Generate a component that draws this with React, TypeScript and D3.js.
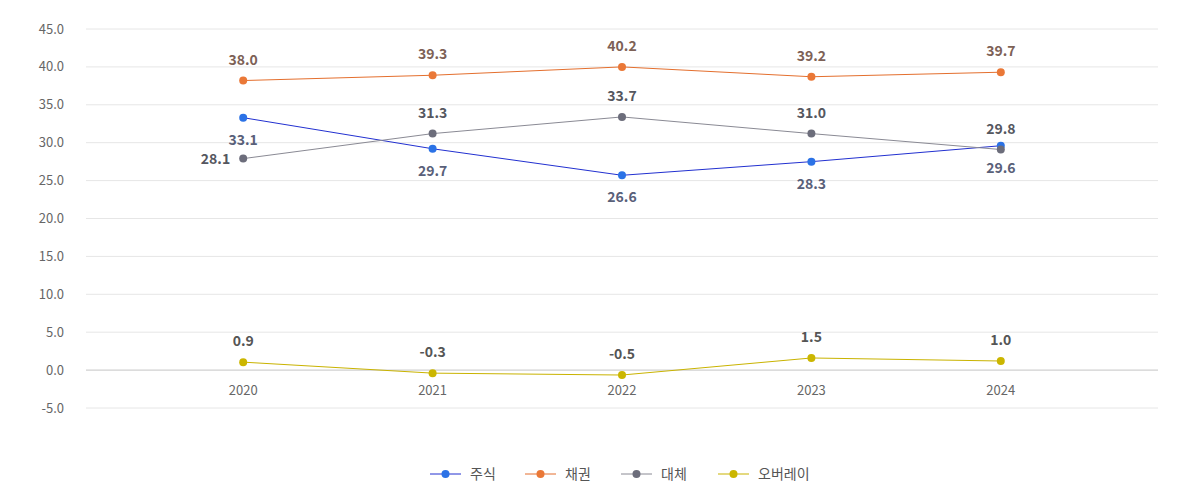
import * as d3 from "d3";

// ── Data ──────────────────────────────────────────────────────────────────────
const years = ["2020", "2021", "2022", "2023", "2024"];

const stockValues = [33.3, 29.2, 25.7, 27.5, 29.6];
const stockLabels = ["33.1", "29.7", "26.6", "28.3", "29.6"];

const bondValues = [38.2, 38.9, 40.0, 38.7, 39.3];
const bondLabels = ["38.0", "39.3", "40.2", "39.2", "39.7"];

const altValues = [27.9, 31.2, 33.4, 31.2, 29.1];
const altLabels = ["28.1", "31.3", "33.7", "31.0", "29.8"];

const overlayValues = [1.05, -0.4, -0.65, 1.6, 1.2];
const overlayLabels = ["0.9", "-0.3", "-0.5", "1.5", "1.0"];

const yTicks = [-5, 0, 5, 10, 15, 20, 25, 30, 35, 40, 45];

// label side per point: "up" | "down" | "left"
type Side = "up" | "down" | "left";

interface Series {
  name: string;
  values: number[];
  labels: string[];
  sides: Side[];
  line: string;
  dot: string;
  labelColor: string;
}

const series: Series[] = [
  {
    name: "주식",
    values: stockValues,
    labels: stockLabels,
    sides: ["down", "down", "down", "down", "down"],
    line: "#2230d0",
    dot: "#2b72e6",
    labelColor: "#596079",
  },
  {
    name: "채권",
    values: bondValues,
    labels: bondLabels,
    sides: ["up", "up", "up", "up", "up"],
    line: "#e46f2e",
    dot: "#ea7837",
    labelColor: "#7d6156",
  },
  {
    name: "대체",
    values: altValues,
    labels: altLabels,
    sides: ["left", "up", "up", "up", "up"],
    line: "#8a8a94",
    dot: "#6c6d7b",
    labelColor: "#55575f",
  },
  {
    name: "오버레이",
    values: overlayValues,
    labels: overlayLabels,
    sides: ["up", "up", "up", "up", "up"],
    line: "#c9b300",
    dot: "#cbb600",
    labelColor: "#555555",
  },
];

// ── Dimensions ────────────────────────────────────────────────────────────────
const width = 1184;
const height = 485;
const plotLeft = 86;
const plotRight = 1158;
const font = "'Noto Sans CJK KR', 'Noto Sans', sans-serif";

export default function App() {
  const x = d3
    .scalePoint<string>()
    .domain(years)
    .range([plotLeft, plotRight])
    .padding(0.83);

  const y = d3.scaleLinear().domain([-5, 45]).range([408, 29]);

  const line = d3
    .line<number>()
    .x((_, i) => x(years[i]) as number)
    .y((d) => y(d));

  const legendX = [430, 525, 621, 718];

  return (
    <div style={{ position: "absolute", left: 0, top: 0 }}>
      <svg width={width} height={height} style={{ fontFamily: font, display: "block" }}>
        {/* Grid */}
        {yTicks.map((t) => (
          <g key={t}>
            <line
              x1={plotLeft}
              x2={plotRight}
              y1={y(t)}
              y2={y(t)}
              stroke={t === 0 ? "#c4c4c4" : "#e6e6e6"}
              strokeWidth={1}
            />
            <text
              x={64}
              y={y(t)}
              dy="0.35em"
              textAnchor="end"
              fontSize={13}
              fill="#666"
            >
              {t.toFixed(1)}
            </text>
          </g>
        ))}

        {/* X labels */}
        {years.map((yr) => (
          <text
            key={yr}
            x={x(yr)}
            y={395}
            textAnchor="middle"
            fontSize={13}
            fill="#666"
          >
            {yr}
          </text>
        ))}

        {/* Lines */}
        {series.map((s) => (
          <path key={s.name} d={line(s.values) ?? ""} fill="none" stroke={s.line} strokeWidth={1} />
        ))}

        {/* Dots */}
        {series.map((s) =>
          s.values.map((v, i) => (
            <circle
              key={s.name + i}
              cx={x(years[i])}
              cy={y(v)}
              r={4}
              fill={s.dot}
            />
          ))
        )}

        {/* Data labels */}
        {series.map((s) =>
          s.values.map((v, i) => {
            const cx = x(years[i]) as number;
            const cy = y(v);
            const side = s.sides[i];
            let lx = cx;
            let ly = cy - 16;
            let anchor: "middle" | "end" = "middle";
            if (side === "down") ly = cy + 27;
            if (side === "left") {
              lx = cx - 13;
              ly = cy + 5;
              anchor = "end";
            }
            return (
              <text
                key={"l" + s.name + i}
                x={lx}
                y={ly}
                textAnchor={anchor}
                fontSize={14}
                fontWeight="bold"
                fill={s.labelColor}
              >
                {s.labels[i]}
              </text>
            );
          })
        )}

        {/* Legend */}
        {series.map((s, i) => (
          <g key={"lg" + s.name} transform={`translate(${legendX[i]},474)`}>
            <line x1={0} x2={31} y1={0} y2={0} stroke={s.line} strokeWidth={1} />
            <circle cx={15.5} cy={0} r={4} fill={s.dot} />
            <text x={40} y={0} dy="0.35em" fontSize={14} fill="#555">
              {s.name}
            </text>
          </g>
        ))}
      </svg>
    </div>
  );
}
